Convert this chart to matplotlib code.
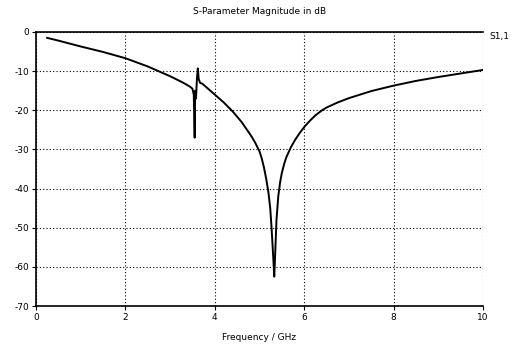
import matplotlib
matplotlib.use("Agg")
import matplotlib.pyplot as plt

plt.rcParams['axes.unicode_minus'] = False
plt.rcParams['font.family'] = ['DejaVu Sans']

title = "S-Parameter Magnitude in dB"
xlabel = "Frequency / GHz"
series_label = "S1,1"

freq = [0.25, 0.5, 1.0, 1.5, 2.0, 2.5, 3.0, 3.3, 3.45, 3.5, 3.53, 3.55, 3.56,
        3.58, 3.6, 3.62, 3.64, 3.67, 3.72, 3.8, 4.0, 4.2, 4.4, 4.6, 4.8, 4.9,
        5.0, 5.05, 5.1, 5.15, 5.2, 5.24, 5.27, 5.31, 5.33, 5.35, 5.38, 5.42,
        5.46, 5.5, 5.55, 5.6, 5.7, 5.8, 5.9, 6.0, 6.1, 6.25, 6.4, 6.5, 6.75,
        7.0, 7.5, 8.0, 8.5, 9.0, 9.5, 10.0]
s11 = [-1.5, -2.2, -3.7, -5.1, -6.7, -8.8, -11.3, -13.0, -14.0, -14.5, -16.0,
       -27.0, -15.0, -17.0, -12.0, -9.3, -12.0, -13.0, -13.2, -14.0, -16.0,
       -18.0, -20.3, -23.0, -26.3, -28.2, -30.5, -32.3, -34.6, -37.5, -41.0,
       -45.0, -50.0, -58.0, -62.5, -57.0, -48.0, -42.0, -38.5, -36.0, -33.8,
       -32.0, -29.5, -27.5, -25.8, -24.3, -23.0, -21.3, -20.0, -19.3, -18.0,
       -16.9, -15.1, -13.7, -12.5, -11.5, -10.6, -9.7]

xticks = [0, 2, 4, 6, 8, 10]
yticks = [0, -10, -20, -30, -40, -50, -60, -70]

fig = plt.figure(figsize=(5.18, 3.5), dpi=100)
ax = fig.add_axes([0.0695, 0.1257, 0.8629, 0.7829])
ax.plot(freq, s11, color='black', linewidth=1.4)
ax.set_xlim(0, 10)
ax.set_ylim(-70, 0)
ax.set_xticks(xticks)
ax.set_yticks(yticks)
ax.set_xticklabels([str(t) for t in xticks])
ax.set_yticklabels([str(t) for t in yticks])
ax.grid(True, color='black', linestyle=(0, (1, 2)), linewidth=0.8)
ax.tick_params(axis='both', labelsize=6.5, length=3, width=0.8, direction='out', pad=2)
for side in ['left', 'bottom', 'top']:
    ax.spines[side].set_linewidth(1.2)
ax.spines['right'].set_visible(False)
ax.set_title(title, fontsize=6.5, pad=13)
ax.set_xlabel(xlabel, fontsize=6.5, labelpad=8)
ax.text(1.015, 1.0, series_label, transform=ax.transAxes, fontsize=6.5,
        ha='left', va='top')
fig.savefig("out.png", dpi=100)
